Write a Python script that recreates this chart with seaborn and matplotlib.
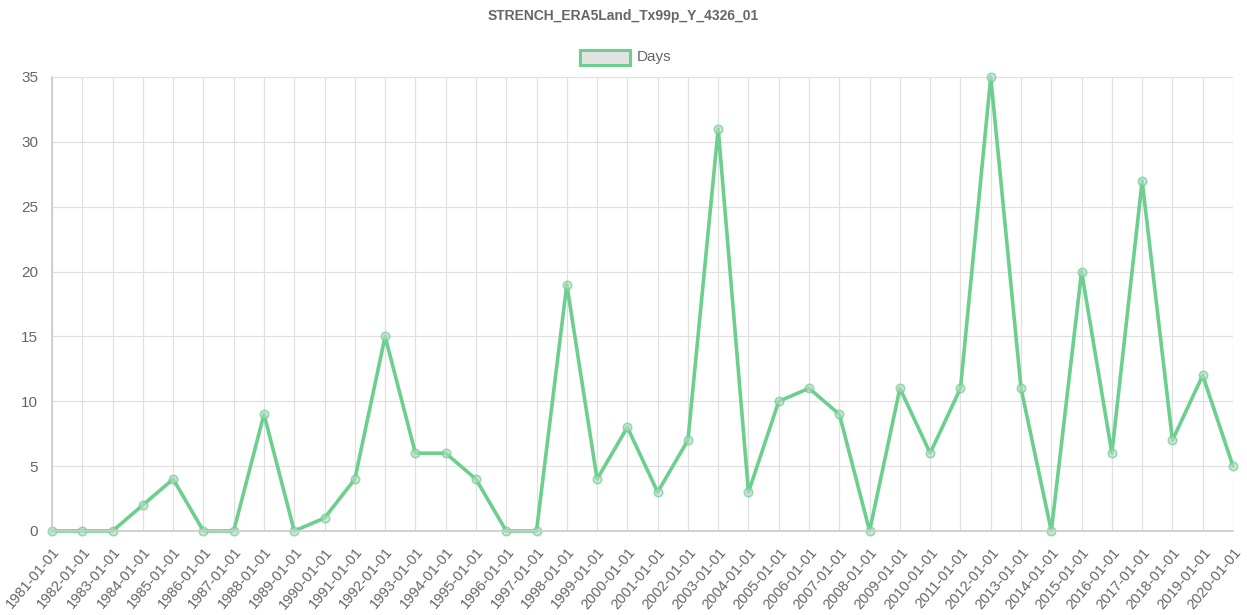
import matplotlib
matplotlib.use('Agg')
import matplotlib.pyplot as plt
import seaborn as sns
import pandas as pd

anos = list(range(1981, 2021))
rotulos = [f"{a}-01-01" for a in anos]
dias = [0, 0, 0, 2, 4, 0, 0, 9, 0, 1,
        4, 15, 6, 6, 4, 0, 0, 19, 4, 8,
        3, 7, 31, 3, 10, 11, 9, 0, 11, 6,
        11, 35, 11, 0, 20, 6, 27, 7, 12, 5]

df = pd.DataFrame({'pos': range(len(anos)), 'Days': dias})

sns.set_theme(style="whitegrid")
plt.rcParams['font.family'] = ['Liberation Sans', 'DejaVu Sans']

cor = '#6ccf8e'
fig = plt.figure(figsize=(12.47, 6.15), dpi=100)
ax = fig.add_axes([52/1247, 1 - 531/615, (1233 - 52)/1247, (531 - 77)/615])

sns.lineplot(x='pos', y='Days', data=df, ax=ax, color=cor, linewidth=2.6,
             marker='o', markersize=6, markerfacecolor=(0.75, 0.85, 0.78, 0.6),
             markeredgecolor=(0.42, 0.81, 0.56, 0.7), markeredgewidth=1.2)

ax.set_xlim(0, len(anos) - 1)
ax.set_ylim(0, 35)
ax.set_yticks(range(0, 36, 5))
ax.set_xticks(range(len(anos)))
ax.set_xticklabels(rotulos, rotation=50, ha='right', rotation_mode='anchor')
ax.tick_params(axis='x', labelsize=10.5, colors='#666666', length=8, color='#e0e0e0', pad=2)
ax.tick_params(axis='y', labelsize=11, colors='#666666', length=8, color='#e0e0e0', pad=2)
ax.grid(True, color='#e0e0e0', linewidth=0.9)
for s in ax.spines.values():
    s.set_visible(False)
ax.spines['left'].set_visible(True)
ax.spines['left'].set_color('#cccccc')
ax.spines['bottom'].set_visible(True)
ax.spines['bottom'].set_color('#cccccc')
ax.set_xlabel('')
ax.set_ylabel('')
for ln in ax.lines:
    ln.set_clip_on(False)

# legenda no estilo do chart.js
fig.patches.append(plt.Rectangle((580/1247, 1 - 65/615), 50/1247, 15/615,
                                 transform=fig.transFigure, facecolor='#e3e3e3',
                                 edgecolor=cor, linewidth=2.2))
fig.text(637/1247, 1 - 57/615, 'Days', fontsize=11, color='#666666', va='center')
fig.text(0.5, 1 - 16/615, 'STRENCH_ERA5Land_Tx99p_Y_4326_01', ha='center', va='center',
         fontsize=10, fontweight='bold', color='#666666')

plt.savefig('out.png', dpi=100)
